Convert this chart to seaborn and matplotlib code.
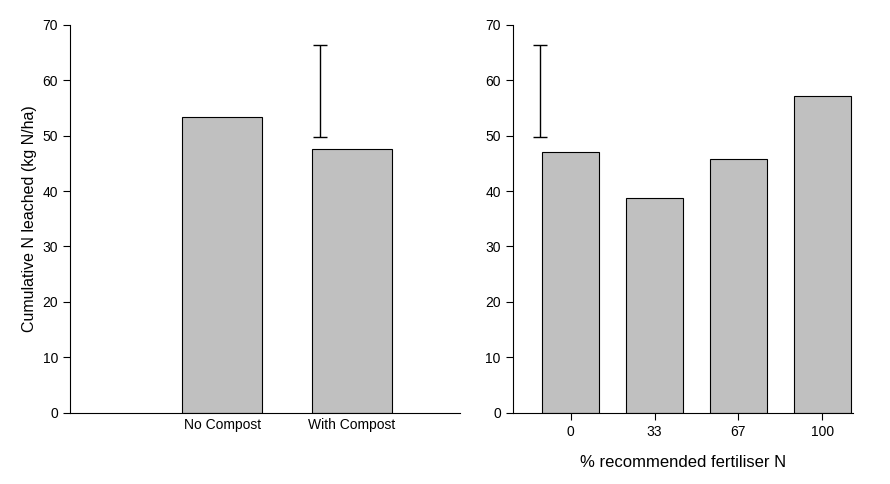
import numpy as np
import pandas as pd
import seaborn as sns
import matplotlib.pyplot as plt

sns.set_style("ticks")
plt.rcParams['font.family'] = ['Liberation Sans', 'DejaVu Sans']
plt.rcParams['text.color'] = 'black'
plt.rcParams['xtick.color'] = 'black'
plt.rcParams['ytick.color'] = 'black'
plt.rcParams['axes.labelcolor'] = 'black'
plt.rcParams['axes.edgecolor'] = 'black'

compost = ["No Compost", "With Compost"]
compost_vals = [53.3, 47.6]
fert = ["0", "33", "67", "100"]
fert_vals = [47.1, 38.7, 45.8, 57.2]
err_lo, err_hi = 49.7, 66.3

fig = plt.figure(figsize=(8.9, 4.84), dpi=100)
ax1 = fig.add_axes([0.0787, 0.147, 0.438, 0.802])
ax2 = fig.add_axes([0.576, 0.147, 0.382, 0.802])

d1 = pd.DataFrame({"x": [1, 2], "y": compost_vals})
sns.barplot(data=d1, x="x", y="y", native_scale=True, width=0.61,
            color="#c0c0c0", edgecolor="black", linewidth=0.8, saturation=1, ax=ax1)
ax1.set_xlim(-0.17, 2.83)
ax1.set_xticks([1, 2], compost)
ax1.errorbar([1.75], [(err_lo + err_hi) / 2], yerr=[(err_hi - err_lo) / 2],
             color="black", capsize=5, linewidth=1)

d2 = pd.DataFrame({"x": [0, 1, 2, 3], "y": fert_vals})
sns.barplot(data=d2, x="x", y="y", native_scale=True, width=0.67,
            color="#c0c0c0", edgecolor="black", linewidth=0.8, saturation=1, ax=ax2)
ax2.set_xlim(-0.69, 3.36)
ax2.set_xticks([0, 1, 2, 3], fert)
ax2.errorbar([-0.36], [(err_lo + err_hi) / 2], yerr=[(err_hi - err_lo) / 2],
             color="black", capsize=5, linewidth=1)

for ax in (ax1, ax2):
    ax.set_ylim(0, 70)
    ax.set_yticks(range(0, 71, 10))
    ax.tick_params(labelsize=10, direction="out", length=5)
    ax.set_xlabel("")
    ax.set_ylabel("")
    sns.despine(ax=ax)
ax1.tick_params(axis="x", length=0)
ax1.set_ylabel("Cumulative N leached (kg N/ha)", fontsize=11.5)
ax2.set_xlabel("% recommended fertiliser N", fontsize=12, labelpad=12)

fig.savefig("out.png", dpi=100)
